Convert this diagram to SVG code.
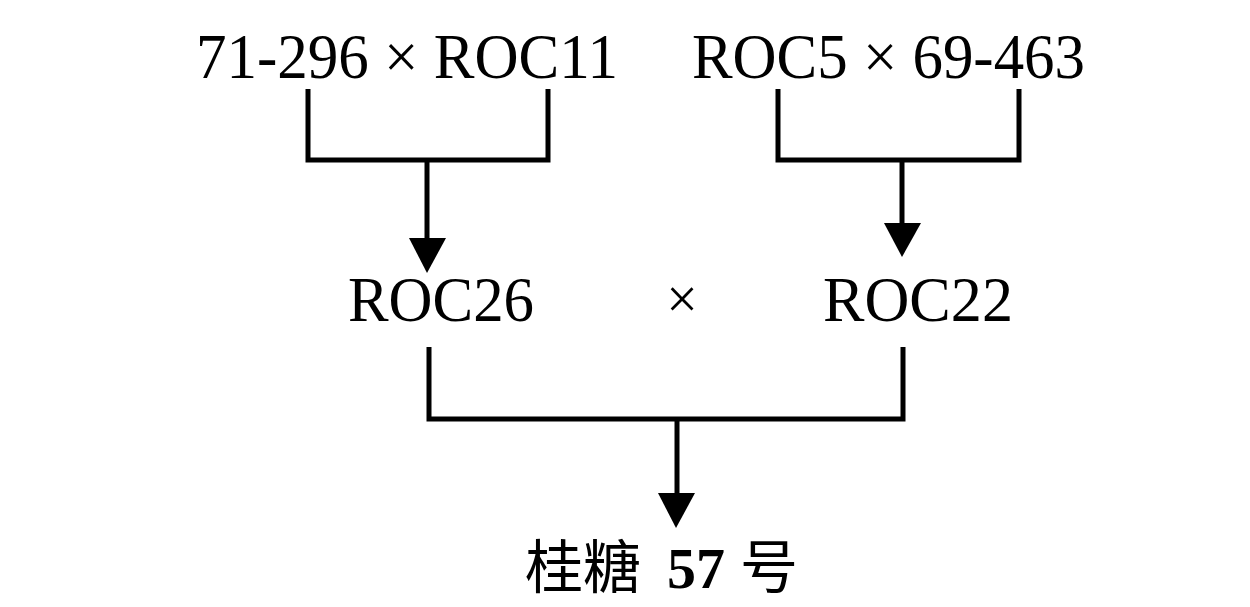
<svg xmlns="http://www.w3.org/2000/svg" width="1250" height="607" viewBox="0 0 1250 607">
<style>
.t{font-family:"Liberation Serif","Times New Roman",serif;font-size:63px;fill:#000}
.cjk{font-family:"Noto Sans CJK SC","Liberation Serif",serif;font-size:58px;fill:#000}
.b{font-family:"Liberation Serif","Times New Roman",serif;font-size:58px;font-weight:bold;fill:#000}
.ln{fill:none;stroke:#000;stroke-width:5;stroke-linejoin:miter}
.ah{fill:#000;stroke:none}
</style>
<rect width="1250" height="607" fill="#fff"/>
<g id="n1"><text class="t" x="196" y="78" textLength="422" lengthAdjust="spacingAndGlyphs">71-296 × ROC11</text></g>
<g id="n2"><text class="t" x="692" y="78" textLength="393" lengthAdjust="spacingAndGlyphs">ROC5 × 69-463</text></g>
<g id="n3"><text class="t" x="348" y="321" textLength="186" lengthAdjust="spacingAndGlyphs">ROC26</text></g>
<g id="n4"><text class="t" x="682" y="318" text-anchor="middle" style="font-size:56px">×</text></g>
<g id="n5"><text class="t" x="823" y="321" textLength="190" lengthAdjust="spacingAndGlyphs">ROC22</text></g>
<g id="n6"><text class="cjk" x="525" y="588">桂糖</text><text class="b" x="667" y="588">57</text><text class="cjk" x="740" y="588">号</text></g>
<g id="connectors">
<polyline class="ln" points="308,89 308,160 548,160 548,89"/>
<line class="ln" x1="427" y1="160" x2="427" y2="240"/>
<polygon class="ah" points="409,238 446,238 427,273"/>
<polyline class="ln" points="778,89 778,160 1019,160 1019,89"/>
<line class="ln" x1="902" y1="160" x2="902" y2="225"/>
<polygon class="ah" points="884,223 921,223 902,257"/>
<polyline class="ln" points="429,347 429,419 903,419 903,347"/>
<line class="ln" x1="677" y1="419" x2="677" y2="495"/>
<polygon class="ah" points="658,493 695,493 676,528"/>
</g>
</svg>
